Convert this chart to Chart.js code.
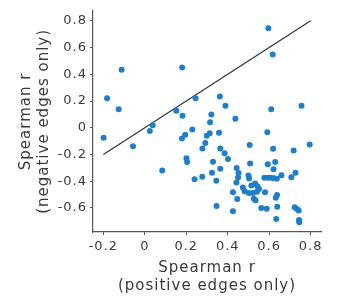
<!DOCTYPE html>
<html>
<head>
<meta charset="utf-8">
<script src="https://cdn.jsdelivr.net/npm/chart.js@4"></script>
<style>
  html, body { margin: 0; padding: 0; background: #fff; }
  canvas { display: block; }
</style>
</head>
<body>
<canvas id="chart" width="339" height="299"></canvas>
<script>
// Spearman r, positive edges only (x) vs negative edges only (y)
const posR = [0.596,0.617,-0.112,0.180,-0.182,-0.126,0.245,0.362,0.389,0.152,
  0.182,0.321,0.315,0.437,0.610,0.756,-0.199,0.038,0.024,-0.057,
  0.229,0.195,0.179,0.313,0.299,0.292,0.278,0.358,0.364,0.385,
  0.401,0.506,0.591,0.619,0.718,0.795,0.201,0.204,0.084,0.329,
  0.324,0.364,0.240,0.277,0.345,0.346,0.443,0.452,0.450,0.442,
  0.425,0.446,0.425,0.508,0.500,0.503,0.473,0.482,0.502,0.514,
  0.532,0.543,0.551,0.541,0.522,0.526,0.534,0.580,0.577,0.594,
  0.609,0.623,0.637,0.659,0.593,0.629,0.621,0.727,0.707,0.638,
  0.632,0.639,0.634,0.562,0.588,0.723,0.734,0.742,0.744,0.745];
const negR = [0.745,0.548,0.434,0.451,0.221,0.138,0.221,0.233,0.165,0.127,
  0.090,0.099,0.041,0.067,0.139,0.165,-0.075,0.018,-0.025,-0.138,
  -0.013,-0.052,-0.080,-0.041,-0.060,-0.114,-0.156,-0.037,-0.155,-0.190,
  -0.233,-0.130,-0.034,-0.158,-0.170,-0.125,-0.228,-0.256,-0.320,-0.254,
  -0.337,-0.307,-0.386,-0.367,-0.397,-0.585,-0.301,-0.338,-0.372,-0.409,
  -0.482,-0.534,-0.625,-0.267,-0.357,-0.380,-0.447,-0.476,-0.488,-0.432,
  -0.418,-0.437,-0.459,-0.479,-0.489,-0.532,-0.543,-0.482,-0.375,-0.375,
  -0.375,-0.378,-0.381,-0.356,-0.273,-0.257,-0.310,-0.337,-0.370,-0.503,
  -0.524,-0.592,-0.683,-0.600,-0.606,-0.594,-0.608,-0.620,-0.690,-0.707];

// identity line y = x
const diagX = [-0.2, 0.8];
const diagY = [-0.2, 0.8];

const xTicks = [-0.2, 0, 0.2, 0.4, 0.6, 0.8];
const yTicks = [-0.6, -0.4, -0.2, 0, 0.2, 0.4, 0.6, 0.8];

const textColor = '#3a3a3a';
const axisColor = '#555';
const fmt = v => String(Math.round(v * 10) / 10);

// a bit of tracking, the original labels are set quite wide
const spacing = {
  id: 'spacing',
  beforeUpdate(chart) { chart.ctx.letterSpacing = '1px'; },
  beforeLayout(chart) { chart.ctx.letterSpacing = '1px'; },
  beforeDraw(chart) { chart.ctx.letterSpacing = '1px'; }
};

new Chart(document.getElementById('chart'), {
  type: 'scatter',
  data: {
    datasets: [{
      data: posR.map((x, i) => ({ x: x, y: negR[i] })),
      backgroundColor: '#1f7ec6',
      borderWidth: 0,
      pointRadius: 3,
      pointHoverRadius: 3,
      order: 1
    }, {
      type: 'line',
      data: diagX.map((x, i) => ({ x: x, y: diagY[i] })),
      borderColor: '#333',
      borderWidth: 1.2,
      pointRadius: 0,
      fill: false,
      order: 2
    }]
  },
  options: {
    responsive: false,
    animation: false,
    devicePixelRatio: 1,
    layout: { padding: { top: 5, right: 18, bottom: 0, left: 0 } },
    plugins: { legend: { display: false }, tooltip: { enabled: false } },
    scales: {
      x: {
        type: 'linear',
        min: -0.25,
        max: 0.85,
        afterFit: s => { s.height = 67; },
        afterBuildTicks: s => { s.ticks = xTicks.map(v => ({ value: v })); },
        grid: { drawOnChartArea: false, drawTicks: true, tickLength: 3, color: axisColor },
        border: { display: true, color: axisColor, width: 1.2 },
        ticks: {
          color: textColor, padding: 4, maxRotation: 0,
          font: { family: 'DejaVu Sans', size: 13 },
          callback: v => fmt(v)
        },
        title: {
          display: true,
          text: ['Spearman r', '(positive edges only)'],
          color: textColor,
          font: { family: 'DejaVu Sans', size: 15, lineHeight: '18px' },
          padding: { top: 0, bottom: 4 }
        }
      },
      y: {
        type: 'linear',
        min: -0.78,
        max: 0.875,
        afterFit: s => { s.width = 93; },
        afterBuildTicks: s => { s.ticks = yTicks.map(v => ({ value: v })); },
        grid: { drawOnChartArea: false, drawTicks: true, tickLength: 3, color: axisColor },
        border: { display: true, color: axisColor, width: 1.2 },
        ticks: {
          color: textColor, padding: 3,
          font: { family: 'DejaVu Sans', size: 13 },
          callback: v => fmt(v)
        },
        title: {
          display: true,
          text: ['Spearman r', '(negative edges only)'],
          color: textColor,
          font: { family: 'DejaVu Sans', size: 15, lineHeight: '18px' },
          padding: { top: 17, bottom: 0 }
        }
      }
    }
  },
  plugins: [spacing]
});
</script>
</body>
</html>
